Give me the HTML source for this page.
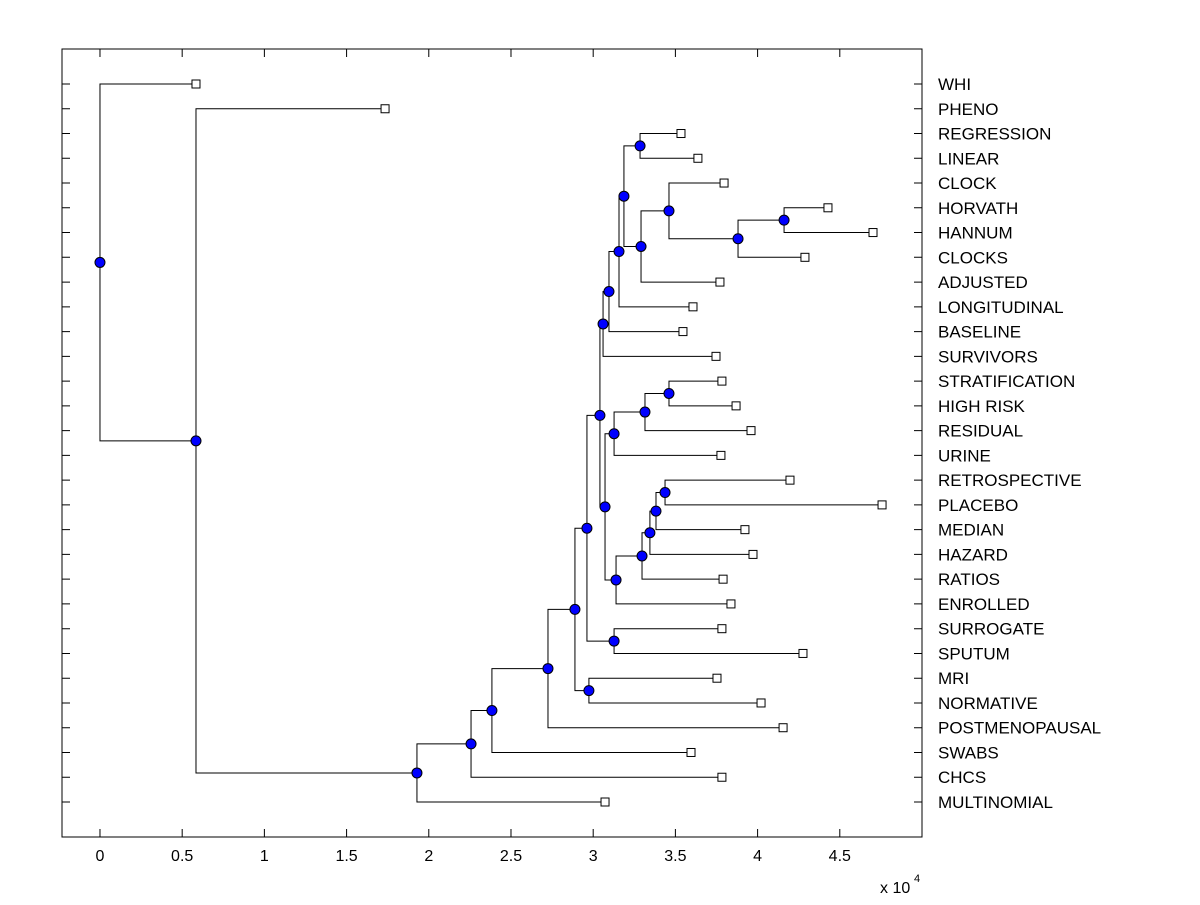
<!DOCTYPE html>
<html><head><meta charset="utf-8"><style>
body{margin:0;background:#fff;}
svg text{font-family:"Liberation Sans",Arial,sans-serif;font-size:16px;fill:#000;}
svg text.leaf{font-size:17px;}
</style></head><body>
<svg id="chart" width="1200" height="900" viewBox="0 0 1200 900" xmlns="http://www.w3.org/2000/svg">
<rect x="0" y="0" width="1200" height="900" fill="#fff"/>
<g id="axes"></g>
<g id="links"></g>
<g id="marks"></g>
</svg>
<script>
// leaf order (top to bottom) and leaf heights (x 10^4)
const leafNames=["WHI","PHENO","REGRESSION","LINEAR","CLOCK","HORVATH","HANNUM","CLOCKS","ADJUSTED","LONGITUDINAL","BASELINE","SURVIVORS","STRATIFICATION","HIGH RISK","RESIDUAL","URINE","RETROSPECTIVE","PLACEBO","MEDIAN","HAZARD","RATIOS","ENROLLED","SURROGATE","SPUTUM","MRI","NORMATIVE","POSTMENOPAUSAL","SWABS","CHCS","MULTINOMIAL"];
const leafHeights=[0.584,1.734,3.534,3.637,3.796,4.428,4.702,4.288,3.771,3.607,3.546,3.747,3.783,3.869,3.960,3.777,4.197,4.757,3.923,3.972,3.790,3.838,3.783,4.276,3.753,4.021,4.155,3.595,3.783,3.072];
// internal nodes: name, height, children
const nodeNames=["ROOT","A","B","C","D","E","F","G","H","I","J","K","L","M","N","O","P","Q","R","S","T","U","W","X","V","Y","Z","AA","AB"];
const nodeHeights=[0,0.584,1.928,2.257,2.384,2.725,2.889,2.962,2.974,3.041,3.127,3.060,3.072,3.096,3.157,3.187,3.285,3.291,3.461,3.881,4.161,3.127,3.315,3.461,3.139,3.297,3.345,3.382,3.437];
const nodeChildren=[["WHI","A"],["PHENO","B"],["C","MULTINOMIAL"],["D","CHCS"],["E","SWABS"],["F","POSTMENOPAUSAL"],["G","H"],["I","J"],["MRI","NORMATIVE"],["K","L"],["SURROGATE","SPUTUM"],["M","SURVIVORS"],["U","V"],["N","BASELINE"],["O","LONGITUDINAL"],["P","Q"],["REGRESSION","LINEAR"],["R","ADJUSTED"],["CLOCK","S"],["T","CLOCKS"],["HORVATH","HANNUM"],["W","URINE"],["X","RESIDUAL"],["STRATIFICATION","HIGH RISK"],["Y","ENROLLED"],["Z","RATIOS"],["AA","HAZARD"],["AB","MEDIAN"],["RETROSPECTIVE","PLACEBO"]];
const xTicks=[0,0.5,1,1.5,2,2.5,3,3.5,4,4.5];
const xTickLabels=["0","0.5","1","1.5","2","2.5","3","3.5","4","4.5"];

const NS="http://www.w3.org/2000/svg";
const L=62,R=922,T=49,B=837,xmin=-0.231,xmax=5.0;
const xs=v=>L+(v-xmin)/(xmax-xmin)*(R-L);
const ys=i=>84+i*(802-84)/29;
function mk(parent,tag,attrs){const e=document.createElementNS(NS,tag);for(const k in attrs)e.setAttribute(k,attrs[k]);document.getElementById(parent).appendChild(e);return e;}

let e=mk("axes","rect",{x:L,y:T,width:R-L,height:B-T,fill:"none",stroke:"#000","stroke-width":1});


xTicks.forEach((v,i)=>{
  const x=xs(v);
  let t=mk("axes","path",{d:`M${x},${B}V${B-8}M${x},${T}V${T+8}`,stroke:"#000"});
  
  
  let lb=mk("axes","text",{x:x,y:B+24,"text-anchor":"middle"});lb.textContent=xTickLabels[i];
  
  
});
let ex=mk("axes","text",{x:880,y:893});ex.textContent="x 10";


let ex2=mk("axes","text",{x:914,y:882,style:"font-size:11px"});ex2.textContent="4";


leafNames.forEach((n,i)=>{
  const y=ys(i);
  let t=mk("axes","path",{d:`M${L},${y}H${L+8}M${R},${y}H${R-8}`,stroke:"#000"});
  
  
  let lb=mk("axes","text",{x:938,y:y+6,"class":"leaf"});lb.textContent=n;
  
  
});

const pos={};
leafNames.forEach((n,i)=>{pos[n]={x:xs(leafHeights[i]),y:ys(i)};});
function resolve(name){
  if(pos[name])return pos[name];
  const k=nodeNames.indexOf(name);
  const c=nodeChildren[k].map(resolve);
  pos[name]={x:xs(nodeHeights[k]),y:(c[0].y+c[1].y)/2};
  return pos[name];
}
nodeNames.forEach(resolve);
nodeNames.forEach((n,k)=>{
  const p=pos[n],a=pos[nodeChildren[k][0]],b=pos[nodeChildren[k][1]];
  let l=mk("links","path",{d:`M${a.x},${a.y}H${p.x}V${b.y}H${b.x}`,fill:"none",stroke:"#000","stroke-width":1});
  
  
});
leafNames.forEach((n,i)=>{
  const p=pos[n];
  let s=mk("marks","rect",{x:p.x-4,y:p.y-4,width:8,height:8,fill:"#fff",stroke:"#000"});
  
  
});
nodeNames.forEach(n=>{
  const p=pos[n];
  let c=mk("marks","circle",{cx:p.x,cy:p.y,r:5,fill:"#0000ff",stroke:"#000"});
  
  
});
</script>
</body></html>
